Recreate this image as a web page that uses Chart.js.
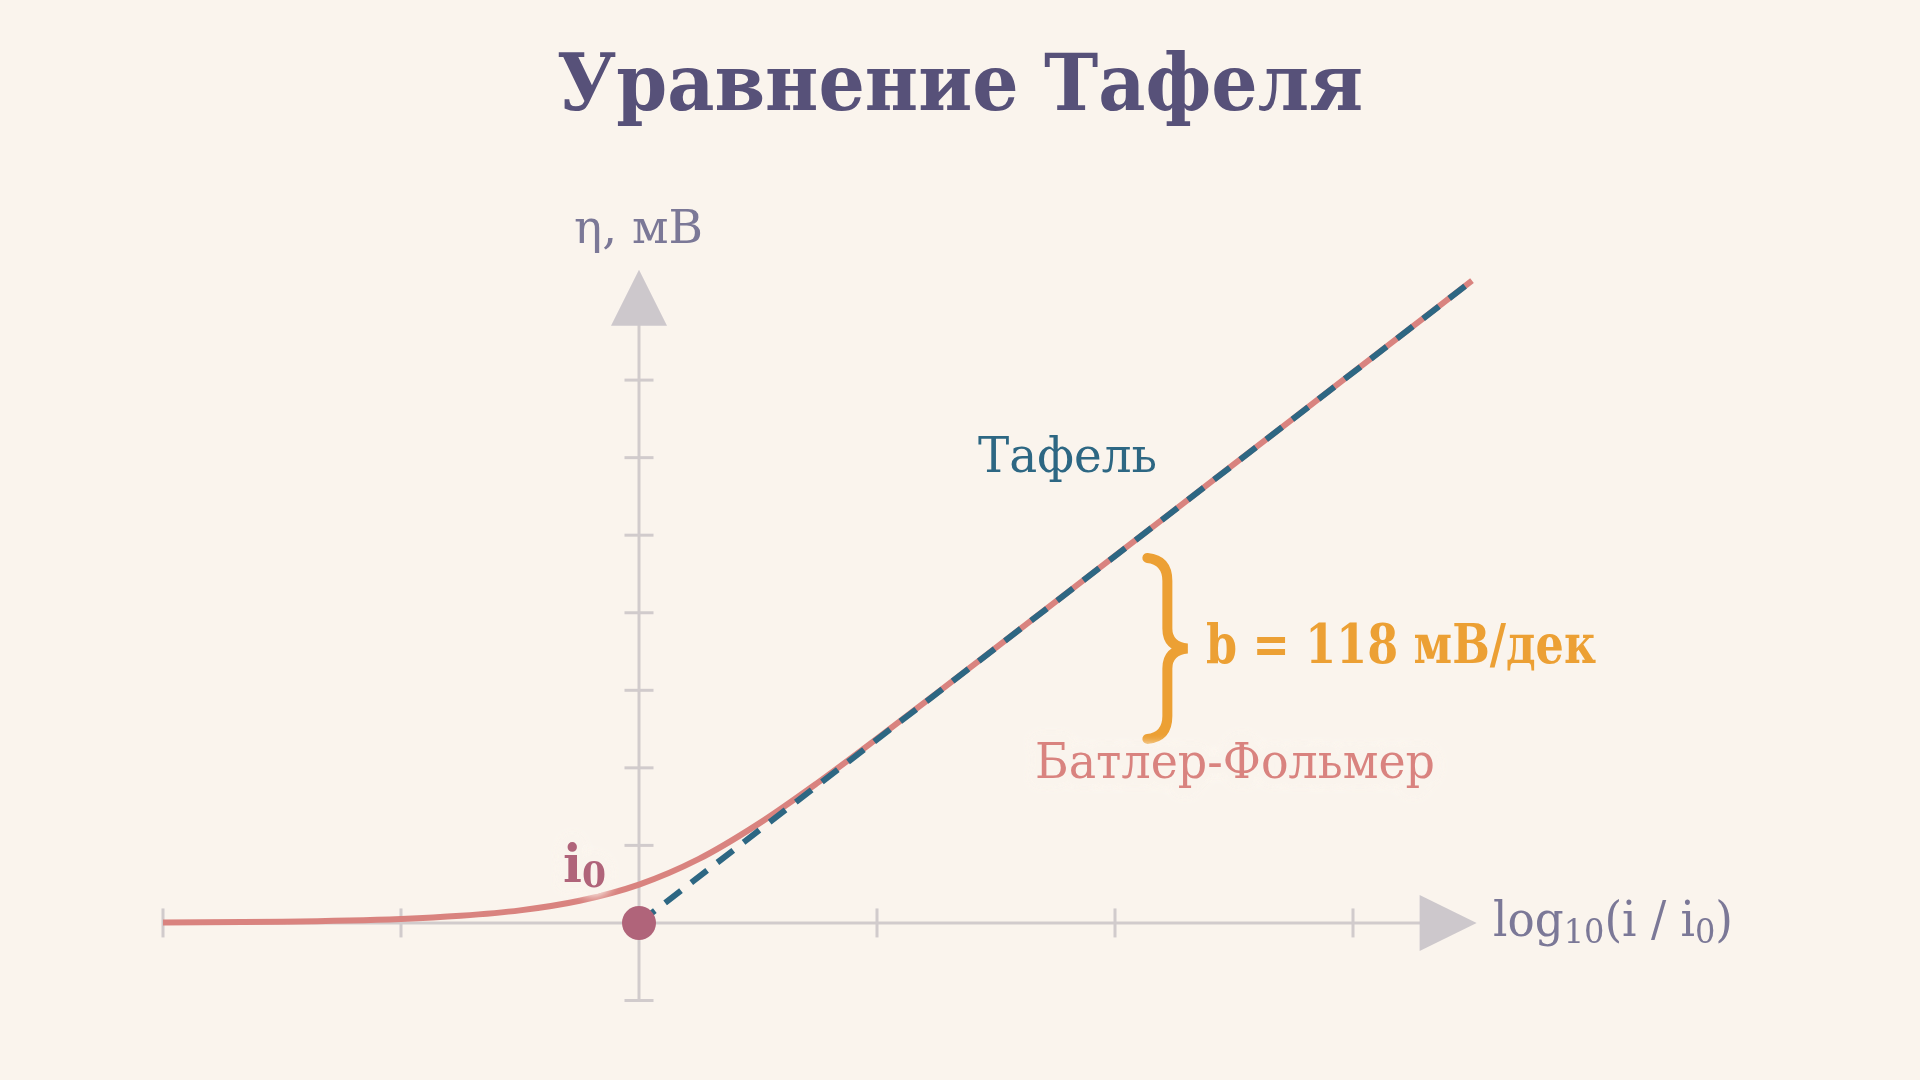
<!DOCTYPE html>
<html lang="ru">
<head>
<meta charset="utf-8">
<title>Уравнение Тафеля</title>
<script src="https://cdn.jsdelivr.net/npm/chart.js@4.4.1/dist/chart.umd.min.js"></script>
<style>
html, body { margin: 0; padding: 0; background: #faf4ed; overflow: hidden; }
canvas { display: block; }
</style>
</head>
<body>
<canvas id="tafel" width="1920" height="1080"></canvas>
<script>
// log10(i/i0) and overpotential in mV
var logI = [-2, -1.5, -1, -0.75, -0.5, -0.25, 0, 0.25, 0.5, 0.75, 1, 1.25, 1.5, 2, 2.5, 3, 3.5];
var butlerVolmer = [0.3, 0.8, 2.6, 4.6, 8.1, 14.3, 24.7, 41.1, 63.7, 90.3, 118.8, 148.0, 177.5, 236.6, 295.8, 354.9, 414.1];
var tafelX = [0, 3.5];
var tafelY = [0, 414];
var exchangeX = [0];
var exchangeY = [0];
var xTicks = [-2, -1, 1, 2, 3];
var yTicks = [-50, 50, 100, 150, 200, 250, 300, 350];
var slopeB = 118; // mV per decade

var BG = '#faf4ed';
var SERIF = '"DejaVu Serif", "Liberation Serif", serif';

function pts(xs, ys) {
    return xs.map(function (x, i) { return { x: x, y: ys[i] }; });
}

// runs: [text, size, weight, dy]; squeezed to width w
function label(ctx, runs, x, y, w, color, halo, align) {
    var total = 0;
    runs.forEach(function (r) {
        ctx.font = r[2] + ' ' + r[1] + 'px ' + SERIF;
        r.w = ctx.measureText(r[0]).width;
        total += r.w;
    });
    var sx = w ? w / total : 1;
    var left = align === 'center' ? x - total * sx / 2 : x;
    ctx.save();
    ctx.translate(left, y);
    ctx.scale(sx, 1);
    ctx.textBaseline = 'alphabetic';
    if (halo) {
        var hx = 0;
        runs.forEach(function (r) {
            ctx.font = r[2] + ' ' + r[1] + 'px ' + SERIF;
            ctx.save();
            ctx.strokeStyle = BG;
            ctx.lineWidth = halo;
            ctx.lineJoin = 'round';
            ctx.shadowColor = BG;
            ctx.shadowBlur = halo;
            ctx.strokeText(r[0], hx, r[3] || 0);
            ctx.strokeText(r[0], hx, r[3] || 0);
            ctx.restore();
            hx += r.w;
        });
    }
    var cx = 0;
    ctx.fillStyle = color;
    runs.forEach(function (r) {
        ctx.font = r[2] + ' ' + r[1] + 'px ' + SERIF;
        ctx.fillText(r[0], cx, r[3] || 0);
        cx += r.w;
    });
    ctx.restore();
}

function seg(ctx, x1, y1, x2, y2) {
    ctx.beginPath();
    ctx.moveTo(x1, y1);
    ctx.lineTo(x2, y2);
    ctx.stroke();
}

var axesPlugin = {
    id: 'tafelAxes',
    beforeDatasetsDraw: function (chart) {
        var ctx = chart.ctx, xs = chart.scales.x, ys = chart.scales.y;
        var x0 = xs.getPixelForValue(0), y0 = ys.getPixelForValue(0);
        var xEnd = xs.getPixelForValue(3.28);
        var yTop = ys.getPixelForValue(385);
        ctx.save();
        ctx.strokeStyle = '#d1cbcc';
        ctx.lineWidth = 3;
        seg(ctx, xs.getPixelForValue(-2), y0, xEnd + 2, y0);
        xTicks.forEach(function (v) {
            var px = xs.getPixelForValue(v);
            seg(ctx, px, y0 - 14.5, px, y0 + 14.5);
        });
        seg(ctx, x0, ys.getPixelForValue(-50), x0, yTop - 2);
        yTicks.forEach(function (v) {
            var py = ys.getPixelForValue(v);
            seg(ctx, x0 - 14.5, py, x0 + 14.5, py);
        });
        ctx.fillStyle = '#cdc8cc';
        ctx.beginPath();
        ctx.moveTo(xEnd, y0 - 28);
        ctx.lineTo(xEnd + 57, y0);
        ctx.lineTo(xEnd, y0 + 28);
        ctx.closePath();
        ctx.fill();
        ctx.beginPath();
        ctx.moveTo(x0 - 28, yTop);
        ctx.lineTo(x0, yTop - 56);
        ctx.lineTo(x0 + 28, yTop);
        ctx.closePath();
        ctx.fill();
        ctx.restore();
    },
    afterDatasetsDraw: function (chart) {
        var ctx = chart.ctx, xs = chart.scales.x, ys = chart.scales.y;

        // brace spanning one decade on the Tafel line
        var bTop = ys.getPixelForValue(2 * slopeB), bBot = ys.getPixelForValue(slopeB);
        var bMid = (bTop + bBot) / 2;
        var bx = xs.getPixelForValue(2.22);
        ctx.save();
        ctx.strokeStyle = '#eca034';
        ctx.lineWidth = 10;
        ctx.lineCap = 'round';
        ctx.beginPath();
        ctx.moveTo(bx - 20, bTop + 1);
        ctx.quadraticCurveTo(bx, bTop + 3, bx, bTop + 24);
        ctx.lineTo(bx, bMid - 20);
        ctx.quadraticCurveTo(bx, bMid - 2, bx + 20, bMid);
        ctx.quadraticCurveTo(bx, bMid + 2, bx, bMid + 20);
        ctx.lineTo(bx, bBot - 24);
        ctx.quadraticCurveTo(bx, bBot - 3, bx - 20, bBot - 1);
        ctx.stroke();
        ctx.restore();

        label(ctx, [['Уравнение Тафеля', 79, 'bold', 0]], 960, 110, 806, '#575179', 0, 'center');
        label(ctx, [['η, мВ', 47, 'normal', 0]], 574, 243, 129, '#7b7897');
        label(ctx, [['log', 48, 'normal', 0], ['10', 34, 'normal', 7], ['(i / i', 48, 'normal', 0], ['0', 34, 'normal', 7], [')', 48, 'normal', 0]],
            1493, 936, 240, '#7b7897');
        label(ctx, [['Тафель', 48, 'normal', 0]], 978, 472, 179, '#2d6783');
        label(ctx, [['b = ' + slopeB + ' мВ/дек', 55, 'bold', 0]], 1206, 663, 390, '#eca034');
        label(ctx, [['Батлер-Фольмер', 48, 'normal', 0]], 1035, 778, 400, '#d9837f', 12);
        label(ctx, [['i', 52, 'bold', 0], ['0', 36, 'bold', 5]], 563, 882, 43, '#b0647a', 12);
    }
};

new Chart(document.getElementById('tafel'), {
    type: 'line',
    data: {
        datasets: [
            {
                label: 'i0',
                data: pts(exchangeX, exchangeY),
                showLine: false,
                pointRadius: 17,
                pointBorderWidth: 0,
                pointBackgroundColor: '#b0647a',
                order: 0,
                clip: false
            },
            {
                label: 'Тафель',
                data: pts(tafelX, tafelY),
                borderColor: '#2d6783',
                borderWidth: 6,
                borderDash: [20, 13],
                pointRadius: 0,
                order: 1,
                clip: false
            },
            {
                label: 'Батлер-Фольмер',
                data: pts(logI, butlerVolmer),
                borderColor: '#d9837f',
                borderWidth: 6,
                pointRadius: 0,
                cubicInterpolationMode: 'monotone',
                order: 2,
                clip: false
            }
        ]
    },
    options: {
        responsive: false,
        animation: false,
        devicePixelRatio: 1,
        events: [],
        layout: { padding: { left: 163, right: 448, top: 225, bottom: 64 } },
        scales: {
            x: { type: 'linear', min: -2, max: 3.5, display: false },
            y: { type: 'linear', min: -60, max: 450, display: false }
        },
        plugins: {
            legend: { display: false },
            tooltip: { enabled: false }
        }
    },
    plugins: [axesPlugin]
});
</script>
</body>
</html>
